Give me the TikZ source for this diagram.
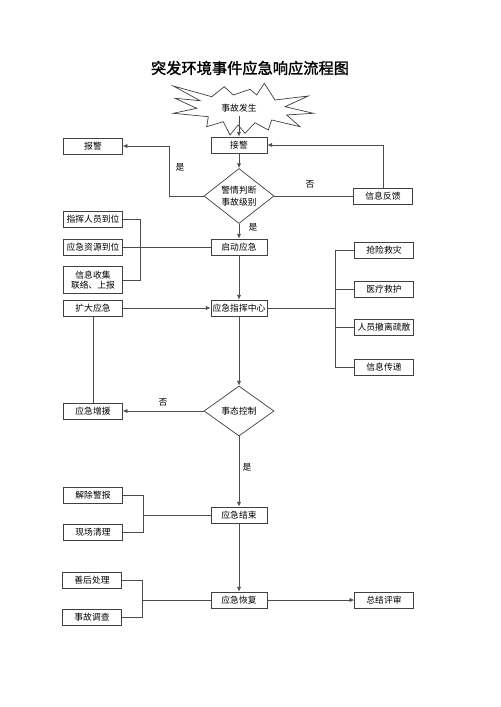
\documentclass[tikz,border=0pt]{standalone}
\usepackage{fontspec}
\setmainfont{Noto Sans CJK SC}
\newfontfamily\titlefont[FakeBold=1.5]{Noto Sans CJK SC}
\usetikzlibrary{arrows.meta,shapes.geometric}
\begin{document}
\begin{tikzpicture}[x=0.03cm,y=-0.03cm,
  box/.style={draw=black!75, line width=0.6pt, minimum width=1.76cm, minimum height=0.48cm, inner sep=0pt, font=\fontsize{7.5}{9}\selectfont, fill=white},
  dia/.style={draw=black!75, line width=0.6pt, diamond, minimum width=2.1cm, minimum height=1.5cm, inner sep=0pt, font=\fontsize{7.5}{10}\selectfont, align=center, fill=white},
  ln/.style={draw=black!70, line width=0.6pt},
  arr/.style={ln, -{Latex[length=4pt,width=3.5pt]}},
  lbl/.style={font=\fontsize{7.5}{9}\selectfont}]
\useasboundingbox (0,0) rectangle (500,707);
\node[font=\titlefont\fontsize{13}{15}\selectfont] (title) at (250,68) {突发环境事件应急响应流程图};
% starburst
\draw[draw=black!75, line width=0.6pt, fill=white] (173.3,86) -- (211.7,96.7) -- (224.3,86.7) -- (233.3,95) -- (250,89.3) -- (256.7,95) -- (264.3,83.3) -- (275,100) -- (308.3,96) -- (285,106.7) -- (313.3,113.3) -- (286.7,115) -- (300,126.7) -- (271.7,120) -- (268.3,130) -- (255,122.7) -- (245,133.3) -- (238,125) -- (230,135) -- (223.3,121.7) -- (206.7,126.7) -- (208.3,116.7) -- (173.3,113.3) -- (196.7,108.3) -- (175,98.3) -- (200,100.7) -- cycle;
\node[lbl] (star) at (239,108) {事故发生};
\node[box, minimum width=1.68cm] (jj) at (239,145) {接警};
\node[box] (bj) at (93,146) {报警};
\node[dia] (d1) at (239,196) {警情判断\\事故级别};
\node[box] (fk) at (383,196) {信息反馈};
\node[box, minimum width=1.68cm] (qd) at (239,247) {启动应急};
\node[box] (zh1) at (93,219) {指挥人员到位};
\node[box] (zy) at (93,247) {应急资源到位};
\node[box, minimum height=0.81cm, align=center] (xx) at (93,280) {信息收集\\联络、上报};
\node[box, minimum width=1.68cm] (zx) at (239,308) {应急指挥中心};
\node[box] (kd) at (93,308) {扩大应急};
\node[box] (r1) at (384,250) {抢险救灾};
\node[box] (r2) at (384,289) {医疗救护};
\node[box] (r3) at (384,327) {人员撤离疏散};
\node[box] (r4) at (384,367) {信息传递};
\node[dia] (d2) at (239,411) {事态控制};
\node[box] (zy2) at (93,411) {应急增援};
\node[box, minimum width=1.68cm] (js) at (239,515) {应急结束};
\node[box] (jc) at (93,495) {解除警报};
\node[box] (xc) at (93,532) {现场清理};
\node[box, minimum width=1.68cm] (hf) at (239,600) {应急恢复};
\node[box] (sh) at (92,580) {善后处理};
\node[box] (dc) at (92,617) {事故调查};
\node[box] (zj) at (384,600) {总结评审};
% labels
\node[lbl] (l1) at (180,167) {是};
\node[lbl] (l2) at (310,184) {否};
\node[lbl] (l3) at (253,227) {是};
\node[lbl] (l4) at (163,402) {否};
\node[lbl] (l5) at (247,467) {是};
% connectors
\draw[arr] (star.south) -- (jj.north);
\draw[arr] (jj.south) -- (d1.north);
\draw[arr] (d1.west) -- ++(-34,0) |- (bj.east);
\draw[ln] (d1.east) -- (fk.west);
\draw[arr] (fk.north) |- (jj.east);
\draw[arr] (d1.south) -- (qd.north);
\coordinate (b1) at (140,247);
\draw[ln] (zh1.east) -| (b1);
\draw[ln] (xx.east) -| (b1);
\draw[ln] (zy.east) -- (qd.west);
\draw[arr] (qd.south) -- (zx.north);
\draw[arr] (kd.east) -- (zx.west);
\coordinate (rb) at (335,308);
\draw[ln] (zx.east) -- (rb);
\draw[ln] (r1.west) -| (rb);
\draw[ln] (r2.west) -| (rb);
\draw[ln] (r3.west) -| (rb);
\draw[ln] (r4.west) -| (rb);
\draw[arr] (zx.south) -- (d2.north);
\draw[arr] (d2.west) -- (zy2.east);
\draw[ln] (zy2.north) -- (kd.south);
\draw[arr] (d2.south) -- (js.north);
\coordinate (lb1) at (143,515);
\draw[ln] (jc.east) -| (lb1);
\draw[ln] (xc.east) -| (lb1);
\draw[ln] (lb1) -- (js.west);
\draw[arr] (js.south) -- (hf.north);
\coordinate (lb2) at (142,600);
\draw[ln] (sh.east) -| (lb2);
\draw[ln] (dc.east) -| (lb2);
\draw[ln] (lb2) -- (hf.west);
\draw[arr] (hf.east) -- (zj.west);
\end{tikzpicture}
\end{document}
